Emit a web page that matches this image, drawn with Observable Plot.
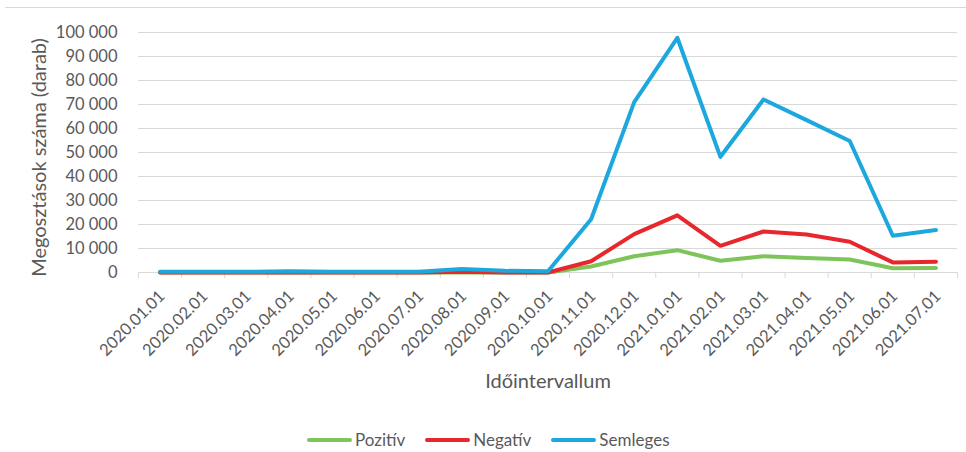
<!DOCTYPE html>
<html><head><meta charset="utf-8">
<script src="https://cdn.jsdelivr.net/npm/d3@7"></script>
<script src="https://cdn.jsdelivr.net/npm/@observablehq/plot@0.6"></script>
<style>
body{margin:0;background:#fff;font-family:Lato,sans-serif;}
#wrap{position:relative;width:966px;height:452px;overflow:hidden;background:#fff;}
#topline{position:absolute;left:5px;right:0;top:7px;height:0;border-top:1px solid #d9d9d9;}
#chart{position:absolute;left:0;top:0;}
#legend{position:absolute;left:307px;top:430px;display:flex;align-items:center;font-size:17px;color:#595959;line-height:20px;}
.item{display:flex;align-items:center;margin-right:20px}
.sw{width:45px;height:4px;border-radius:2px;margin-right:3px}
</style></head>
<body><div id="wrap"><div id="topline"></div><div id="chart"></div><div id="legend"></div></div>
<script>
const months = ["2020.01.01","2020.02.01","2020.03.01","2020.04.01","2020.05.01","2020.06.01","2020.07.01","2020.08.01","2020.09.01","2020.10.01","2020.11.01","2020.12.01","2021.01.01","2021.02.01","2021.03.01","2021.04.01","2021.05.01","2021.06.01","2021.07.01"];
const pozitiv  = [0,0,0,0,0,0,0,0,0,0, 2500, 6800, 9300, 4900, 6800, 6000, 5400, 1800, 1900];
const negativ  = [0,0,0,0,0,0,0,300,0,0, 4700, 16000, 23800, 11100, 17100, 15800, 12800, 4200, 4500];
const semleges = [300,300,300,500,300,300,300,1500,700,500, 22200, 71000, 97800, 48200, 72100, 63500, 54800, 15300, 17700];
const seriesNames = ["Pozitív","Negatív","Semleges"];
const seriesColors = ["#7ec45b","#e8272c","#1ca8de"];
const yTicks = [0,10000,20000,30000,40000,50000,60000,70000,80000,90000,100000];
const yTitle = "Megosztások száma (darab)";
const xTitle = "Időintervallum";

const seriesValues = [pozitiv, negativ, semleges];
const data = [];
seriesNames.forEach((s, k) => seriesValues[k].forEach((v, i) => data.push({i, month: months[i], series: s, value: v})));
const fmt = d => d3.format(",")(d).replace(/,/g, "\u00a0");
const boundaries = d3.range(months.length + 1);

const plot = Plot.plot({
  width: 966, height: 410,
  marginLeft: 138, marginRight: 9, marginTop: 32, marginBottom: 138,
  style: {fontFamily: "Lato, sans-serif", background: "transparent"},
  x: {type: "linear", domain: [0, months.length], axis: null},
  y: {domain: [0, 100000], axis: null},
  color: {domain: seriesNames, range: seriesColors},
  marks: [
    Plot.gridY(yTicks, {stroke: "#d9d9d9", strokeOpacity: 1}),
    Plot.axisY(yTicks, {tickSize: 0, tickPadding: 21, tickFormat: fmt, fontSize: 16.5, fill: "#595959", label: null}),
    Plot.ruleY([0], {stroke: "#d9d9d9"}),
    Plot.axisX(boundaries, {tickSize: 6, stroke: "#d9d9d9", tickFormat: () => "", label: null}),
    Plot.text(months, {x: (d, i) => i + 0.5, frameAnchor: "bottom", dx: 2, dy: 21, rotate: -45, textAnchor: "end", lineAnchor: "middle", fontSize: 16.5, fill: "#595959"}),
    Plot.text([yTitle], {frameAnchor: "left", dx: -99, dy: 5, rotate: -90, textAnchor: "middle", fontSize: 20, fill: "#595959"}),
    Plot.text([xTitle], {frameAnchor: "bottom", dy: 115, fontSize: 20, fill: "#595959"}),
    Plot.line(data, {x: d => d.i + 0.5, y: "value", stroke: "series", z: "series", strokeWidth: 4, strokeLinejoin: "round", strokeLinecap: "round"})
  ]
});
document.getElementById("chart").appendChild(plot);

const legend = document.getElementById("legend");
seriesNames.forEach((s, k) => {
  const it = document.createElement("div"); it.className = "item";
  const sw = document.createElement("div"); sw.className = "sw"; sw.style.background = seriesColors[k];
  const lb = document.createElement("span"); lb.textContent = s;
  it.appendChild(sw); it.appendChild(lb); legend.appendChild(it);
});
</script>
</body></html>
